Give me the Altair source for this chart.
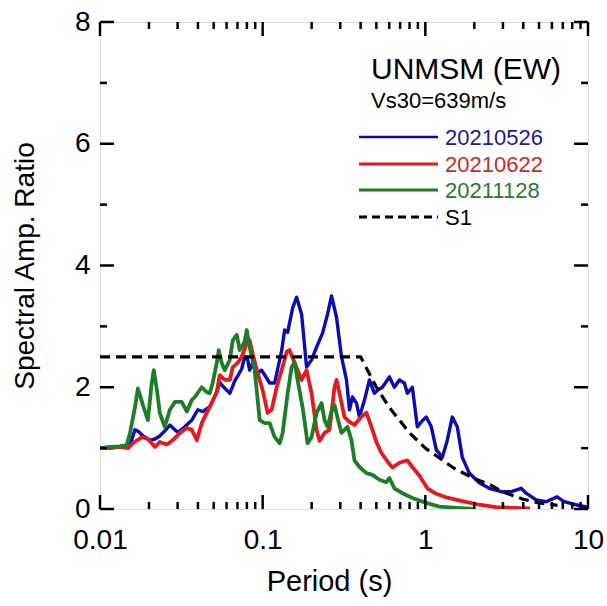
import altair as alt
import pandas as pd

# ---------------- data ----------------
names = ["20210526", "20210622", "20211128", "S1"]

period_0526 = [0.0100, 0.0115, 0.0133, 0.0153, 0.0164, 0.0171, 0.0184, 0.0203, 0.0218, 0.0233,
               0.0250, 0.0269, 0.0289, 0.0301, 0.0332, 0.0367, 0.0399, 0.0428, 0.0473, 0.0522,
               0.0545, 0.0568, 0.0628, 0.0673, 0.0743, 0.0775, 0.0809, 0.0832, 0.0868, 0.0919,
               0.0986, 0.1104, 0.1185, 0.1308, 0.1365, 0.1424, 0.1528, 0.1617, 0.1735, 0.1862,
               0.1998, 0.2145, 0.2334, 0.2505, 0.2650, 0.2844, 0.3052, 0.3275, 0.3418, 0.3565,
               0.3773, 0.3936, 0.4225, 0.4533, 0.4865, 0.5075, 0.5449, 0.6014, 0.6453, 0.6925,
               0.7432, 0.7754, 0.8322, 0.8931, 0.9585, 1.014, 1.088, 1.168, 1.272, 1.365,
               1.464, 1.572, 1.687, 1.862, 2.145, 2.470, 2.968, 3.418, 3.882, 4.165,
               4.797, 5.525, 6.453, 7.126, 8.443, 9.86]
amp_0526 = [1.00, 1.00, 1.03, 1.05, 1.30, 1.28, 1.20, 1.13, 1.15, 1.20,
            1.28, 1.38, 1.30, 1.26, 1.35, 1.46, 1.63, 1.60, 1.68, 1.92,
            2.08, 2.02, 1.90, 2.10, 2.30, 2.50, 2.45, 2.28, 2.40, 2.23,
            2.28, 2.07, 2.07, 2.60, 2.94, 2.90, 3.30, 3.48, 3.20, 2.33,
            2.45, 2.66, 2.89, 3.20, 3.50, 3.15, 2.50, 2.12, 1.63, 1.84,
            1.74, 1.51, 1.79, 2.12, 1.90, 1.95, 2.00, 2.17, 2.00, 2.12,
            2.07, 1.90, 2.00, 1.35, 1.45, 1.51, 1.35, 0.97, 0.85, 1.13,
            1.51, 1.35, 0.85, 0.59, 0.43, 0.34, 0.28, 0.29, 0.34, 0.26,
            0.15, 0.12, 0.20, 0.12, 0.07, 0.03]

period_0622 = [0.0100, 0.0115, 0.0133, 0.0149, 0.0159, 0.0181, 0.0197, 0.0218, 0.0233, 0.0258,
               0.0280, 0.0310, 0.0342, 0.0367, 0.0394, 0.0422, 0.0453, 0.0486, 0.0522, 0.0545,
               0.0585, 0.0628, 0.0655, 0.0702, 0.0743, 0.0798, 0.0832, 0.0868, 0.0932, 0.1000,
               0.1073, 0.1136, 0.1219, 0.1308, 0.1404, 0.1464, 0.1572, 0.1735, 0.1862, 0.1998,
               0.2145, 0.2237, 0.2401, 0.2576, 0.2765, 0.2844, 0.2968, 0.3185, 0.3418, 0.3667,
               0.4050, 0.4345, 0.4663, 0.5004, 0.5373, 0.5847, 0.6275, 0.6925, 0.7754, 0.8322,
               0.9187, 1.029, 1.168, 1.345, 1.687, 2.145, 2.727, 3.418, 4.4]
amp_0622 = [1.00, 1.00, 1.02, 1.00, 1.08, 1.18, 1.15, 1.02, 1.10, 1.06,
            1.13, 1.25, 1.33, 1.30, 1.13, 1.41, 1.58, 1.74, 1.92, 2.20,
            2.12, 2.12, 2.33, 2.40, 2.50, 2.72, 2.77, 2.55, 2.23, 1.95,
            1.58, 1.63, 2.00, 2.28, 2.58, 2.61, 2.40, 2.12, 2.28, 1.90,
            1.30, 1.12, 1.25, 1.30, 2.00, 2.12, 1.90, 1.51, 1.43, 1.38,
            1.52, 1.58, 1.35, 1.10, 0.92, 0.78, 0.68, 0.76, 0.80, 0.69,
            0.55, 0.34, 0.25, 0.19, 0.13, 0.07, 0.03, 0.02, 0.01]

period_1128 = [0.0100, 0.0115, 0.0133, 0.0146, 0.0153, 0.0164, 0.0171, 0.0184, 0.0197, 0.0208,
               0.0214, 0.0224, 0.0233, 0.0250, 0.0269, 0.0289, 0.0318, 0.0342, 0.0367, 0.0383,
               0.0422, 0.0453, 0.0473, 0.0493, 0.0522, 0.0537, 0.0560, 0.0585, 0.0628, 0.0655,
               0.0693, 0.0723, 0.0775, 0.0798, 0.0832, 0.0893, 0.0959, 0.1029, 0.1104, 0.1185,
               0.1272, 0.1327, 0.1424, 0.1506, 0.1572, 0.1639, 0.1760, 0.1889, 0.1998, 0.2145,
               0.2301, 0.2401, 0.2505, 0.2688, 0.2765, 0.2885, 0.3052, 0.3185, 0.3322, 0.3516,
               0.3667, 0.3936, 0.4345, 0.4729, 0.5222, 0.5765, 0.6014, 0.6453, 0.7225, 0.8322,
               1.014, 1.219, 1.549, 1.99]
amp_1128 = [1.00, 1.02, 1.03, 1.05, 1.25, 1.67, 1.98, 1.70, 1.46, 2.07,
            2.28, 1.95, 1.58, 1.35, 1.63, 1.76, 1.76, 1.60, 1.79, 1.84,
            2.00, 1.92, 1.90, 2.07, 2.40, 2.61, 2.40, 2.28, 2.45, 2.77,
            2.86, 2.61, 2.75, 2.94, 2.66, 2.28, 1.46, 1.41, 1.41, 1.18,
            1.08, 1.25, 1.90, 2.33, 2.41, 2.12, 1.67, 1.08, 1.18, 1.58,
            1.74, 1.46, 1.35, 1.67, 1.71, 1.50, 1.25, 1.30, 1.35, 1.13,
            0.80, 0.69, 0.59, 0.56, 0.48, 0.44, 0.51, 0.34, 0.26, 0.18,
            0.10, 0.04, 0.02, 0.00]

period_s1 = [0.01, 0.4, 0.5, 0.6, 0.8, 1.0, 1.5, 2.0, 2.5, 3.0, 4.0, 5.0, 6.5]
amp_s1 = [2.5, 2.5, 2.0, 1.67, 1.25, 1.0, 0.67, 0.5, 0.4, 0.28, 0.16, 0.10, 0.06]

x_labels = [0.01, 0.1, 1, 10]
x_minor = [0.02, 0.03, 0.04, 0.05, 0.06, 0.07, 0.08, 0.09,
           0.2, 0.3, 0.4, 0.5, 0.6, 0.7, 0.8, 0.9,
           2, 3, 4, 5, 6, 7, 8, 9]
y_labels = [0, 2, 4, 6, 8]
y_minor = [1, 3, 5, 7]

# ---------------- styling ----------------
W, H = 488, 487
FONT = "Liberation Sans"
line_colors = ["#0c0cb4", "#e5191e", "#1e7e28", "black"]
text_colors = ["#1c1c94", "#c42a2e", "#287a34", "black"]

xs = alt.Scale(type="log", domain=[0.01, 10])
ys = alt.Scale(domain=[0, 8])

x_axis = alt.Axis(title="Period (s)", values=x_labels, format="~g", ticks=False, tickSize=0,
                  domain=False, grid=False, labelFontSize=28, titleFontSize=29, labelFont=FONT,
                  titleFont=FONT, labelPadding=17, labelFlush=False, labelOverlap=False,
                  labelColor="black", titleColor="black", titleFontWeight="normal",
                  titleX=229, titleY=81, titleAlign="center", titleBaseline="alphabetic")
y_axis = alt.Axis(title="Spectral Amp. Ratio", values=y_labels, ticks=False, tickSize=0,
                  domain=False, grid=False, labelFontSize=28, titleFontSize=28, labelFont=FONT,
                  titleFont=FONT, labelPadding=10, labelFlush=False, labelOverlap=False,
                  labelColor="black", titleColor="black", titleFontWeight="normal",
                  titleX=-67, titleY=H / 2, titleAlign="center", titleAngle=270,
                  titleBaseline="alphabetic")


def X():
    return alt.X("T:Q", scale=xs, axis=x_axis)


def Y():
    return alt.Y("A:Q", scale=ys, axis=y_axis)


series = [(period_0526, amp_0526), (period_0622, amp_0622), (period_1128, amp_1128), (period_s1, amp_s1)]
widths = [3.4, 3.8, 3.8, 3.2]
dashes = [[1, 0], [1, 0], [1, 0], [10, 6]]

layers = []
for i, (T, A) in enumerate(series):
    d = pd.DataFrame({"T": T, "A": A})
    props = dict(color=line_colors[i], strokeWidth=widths[i], clip=True, strokeJoin="round")
    if i == 3:
        props["strokeDash"] = dashes[i]
    layers.append(alt.Chart(d).mark_line(**props).encode(x=X(), y=Y()))


# inward ticks on all four sides
def xticks(vals, length):
    d = pd.DataFrame({"T": vals})
    bot = alt.Chart(d).mark_rule(color="black", strokeWidth=2.5).encode(
        x=X(), y=alt.value(H), y2=alt.value(H - length))
    top = alt.Chart(d).mark_rule(color="black", strokeWidth=2.5).encode(
        x=X(), y=alt.value(0), y2=alt.value(length))
    return [bot, top]


def yticks(vals, length):
    d = pd.DataFrame({"A": vals})
    left = alt.Chart(d).mark_rule(color="black", strokeWidth=2.5).encode(
        y=Y(), x=alt.value(0), x2=alt.value(length))
    right = alt.Chart(d).mark_rule(color="black", strokeWidth=2.5).encode(
        y=Y(), x=alt.value(W), x2=alt.value(W - length))
    return [left, right]


layers += xticks(x_labels, 14) + xticks(x_minor, 7) + yticks(y_labels, 14) + yticks(y_minor, 7)

# annotation text
one = pd.DataFrame({"k": [0]})
layers.append(alt.Chart(one).mark_text(text="UNMSM (EW)", font=FONT, fontSize=30, align="left",
                                        baseline="alphabetic", color="black")
              .encode(x=alt.value(271), y=alt.value(57)))
layers.append(alt.Chart(one).mark_text(text="Vs30=639m/s", font=FONT, fontSize=22, align="left",
                                        baseline="alphabetic", color="black")
              .encode(x=alt.value(271), y=alt.value(86)))

# legend
leg_y = [115, 142, 168, 195]
for i, nm in enumerate(names):
    props = dict(color=line_colors[i], strokeWidth=2.5 if i == 0 else 3.2)
    if i == 3:
        props["strokeDash"] = [8, 5]
    layers.append(alt.Chart(one).mark_rule(**props).encode(
        x=alt.value(259), x2=alt.value(338), y=alt.value(leg_y[i])))
    layers.append(alt.Chart(one).mark_text(text=nm, font=FONT, fontSize=22, align="left",
                                           baseline="middle", color=text_colors[i])
                  .encode(x=alt.value(345), y=alt.value(leg_y[i] + 1)))

chart = alt.layer(*layers).properties(
    width=W, height=H,
    autosize=alt.AutoSizeParams(type="none"),
    padding={"left": 100, "top": 22, "right": 19, "bottom": 97},
).configure_view(stroke="black", strokeWidth=3).configure(background="white")

chart.save("out.html", embed_options={"renderer": "svg", "actions": False})
